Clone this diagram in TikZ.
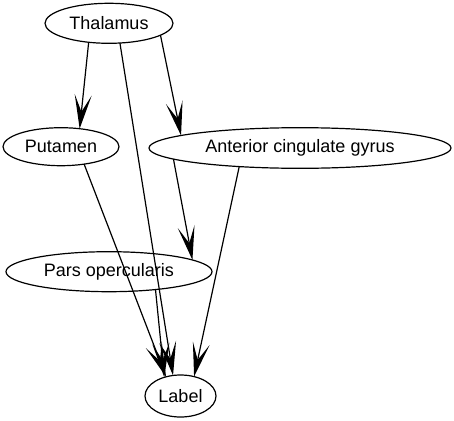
\documentclass[tikz,border=0pt]{standalone}
\usepackage{fontspec}
\setmainfont{Liberation Sans}
\usetikzlibrary{shapes.geometric,arrows.meta}
\begin{document}
\begin{tikzpicture}[x=1pt,y=-1pt,
  nd/.style={ellipse,draw,line width=1.2pt,inner sep=0pt,outer sep=0pt,font=\fontsize{18}{20}\selectfont},
  ed/.style={draw,line width=1.2pt,-{Stealth[length=34pt,width=17pt,inset=17pt]}}]
\useasboundingbox (0,0) rectangle (454,420);
\node[nd,minimum width=128pt,minimum height=40pt] (thal) at (109,23.3) {Thalamus};
\node[nd,minimum width=116pt,minimum height=38pt] (put) at (61,146.7) {Putamen};
\node[nd,minimum width=302pt,minimum height=40.6pt] (acg) at (300,148) {Anterior cingulate gyrus};
\node[nd,minimum width=206pt,minimum height=40pt] (pars) at (109,271.7) {Pars opercularis};
\node[nd,minimum width=71pt,minimum height=42pt] (lab) at (180.5,396) {Label};
\draw[ed] (thal.223.5) -- (put.44.8);
\draw[ed] (thal.347) -- (acg.174.3);
\draw[ed] (thal.299) -- (lab.110);
\draw[ed] (put.323) -- (lab.127);
\draw[ed] (acg.185.9) -- (pars.8.4);
\draw[ed] (acg.197.9) -- (lab.55.2);
\draw[ed] (pars.339) -- (lab.131.6);
\end{tikzpicture}
\end{document}
